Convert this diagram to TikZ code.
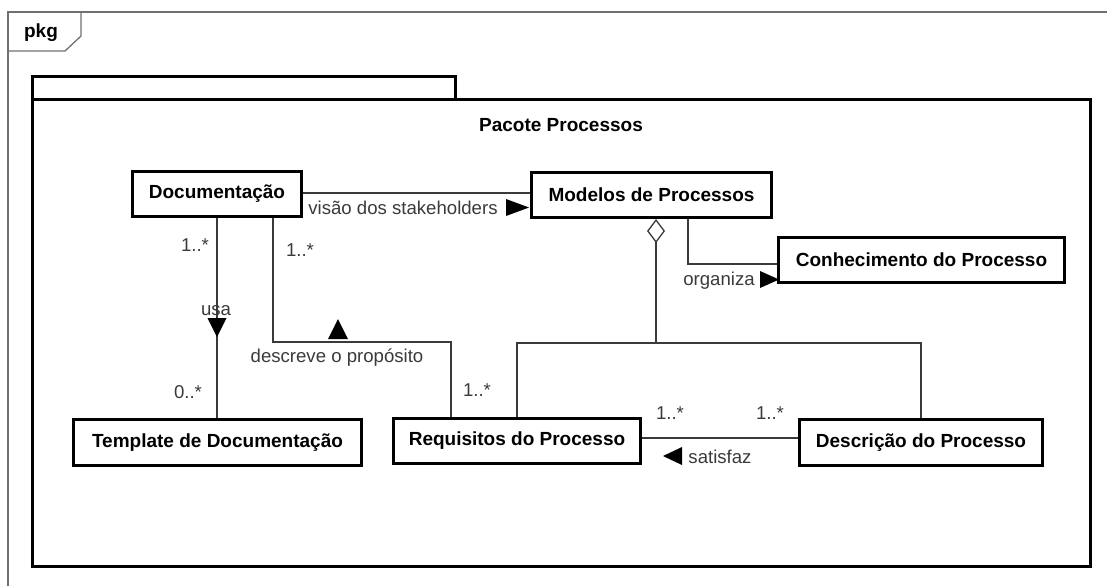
\documentclass[tikz,border=0pt]{standalone}
\usepackage{fontspec}
\setmainfont{Liberation Sans}
\usetikzlibrary{arrows.meta,calc}
\definecolor{lnc}{HTML}{3A3A3A}
\definecolor{frm}{HTML}{707070}
\tikzset{
  cls/.style={draw=black, line width=1.5pt, fill=white, inner sep=0pt,
    font=\fontsize{9.5}{11}\selectfont\bfseries, text=black},
  conn/.style={draw=lnc, line width=0.65pt},
  lbl/.style={font=\fontsize{9.3}{11}\selectfont, text=lnc, inner sep=0pt},
  tri/.style={fill=black},
  pkgline/.style={draw=black, line width=1.5pt},
}
\begin{document}
\begin{tikzpicture}[x=0.5pt,y=-0.5pt]
\useasboundingbox (0,0) rectangle (1107,586);
% outer frame
\draw[frm, line width=0.65pt] (8,586) -- (8,12) -- (1107,12);
\draw[frm, line width=0.65pt] (8,51) -- (65,51) -- (81,36) -- (81,12);
\node[font=\fontsize{9.5}{11}\selectfont\bfseries, inner sep=0pt] (pkg) at (41,33) {pkg};
% package
\draw[pkgline] (32,99) rectangle (455,76);
\draw[pkgline] (32,99) rectangle (1090,566);
\node[font=\fontsize{9.5}{11}\selectfont\bfseries, inner sep=0pt] (title) at (561,125) {Pacote Processos};

% classes
\node[cls, minimum width=84.5pt, minimum height=22.5pt] (doc) at (217,194) {Documentação};
\node[cls, minimum width=120pt, minimum height=22.5pt] (mod) at (651.5,195) {Modelos de Processos};
\node[cls, minimum width=143pt, minimum height=22.5pt] (conh) at (921.5,260) {Conhecimento do Processo};
\node[cls, minimum width=144pt, minimum height=23pt] (tmpl) at (217.5,442.5) {Template de Documentação};
\node[cls, minimum width=123.5pt, minimum height=22.5pt] (req) at (517,441) {Requisitos do Processo};
\node[cls, minimum width=121.5pt, minimum height=23pt] (desc) at (921,442.5) {Descrição do Processo};

% connectors
\coordinate (dj) at (360,342);
\coordinate (agg) at (656,343);
\draw[conn] (doc.east |- 0,193) -- (mod.west |- 0,193);
\draw[conn] (doc.south) -- (doc.south |- tmpl.north);
\draw[conn] ($(doc.south)+(56,0)$) |- (dj) -| ($(req.north)+(-66,0)$);
\draw[conn] (req.north) |- (agg) -| (desc.north);
\draw[conn, -{Diamond[open, length=12pt, width=9pt, line width=0.65pt]}] (agg) -- (agg |- mod.south);
\draw[conn] ($(mod.south)+(36.5,0)$) |- ($(conh.west)+(0,4)$);
\draw[conn] (req.east |- 0,438) -- (desc.west |- 0,438);

% direction triangles
\fill[tri] (506,199) -- (529,207.5) -- (506,216) -- cycle;
\fill[tri] (760,271) -- (779,279.5) -- (760,288) -- cycle;
\fill[tri] (207.5,318) -- (226.5,318) -- (217,337) -- cycle;
\fill[tri] (328,339) -- (348,339) -- (338,319) -- cycle;
\fill[tri] (682,447) -- (663,456) -- (682,465) -- cycle;

% labels
\node[lbl] (l1) at (403,208) {visão dos stakeholders};
\node[lbl] (l2) at (719,281) {organiza};
\node[lbl] (l3) at (216,311) {usa};
\node[lbl] (l4) at (337,358) {descreve o propósito};
\node[lbl] (l5) at (720,457) {satisfaz};
\node[lbl] (m1) at (195,245) {1..*};
\node[lbl] (m2) at (300,250) {1..*};
\node[lbl] (m3) at (188,392) {0..*};
\node[lbl] (m4) at (477,390) {1..*};
\node[lbl] (m5) at (670,413) {1..*};
\node[lbl] (m6) at (770,413) {1..*};
\end{tikzpicture}
\end{document}
